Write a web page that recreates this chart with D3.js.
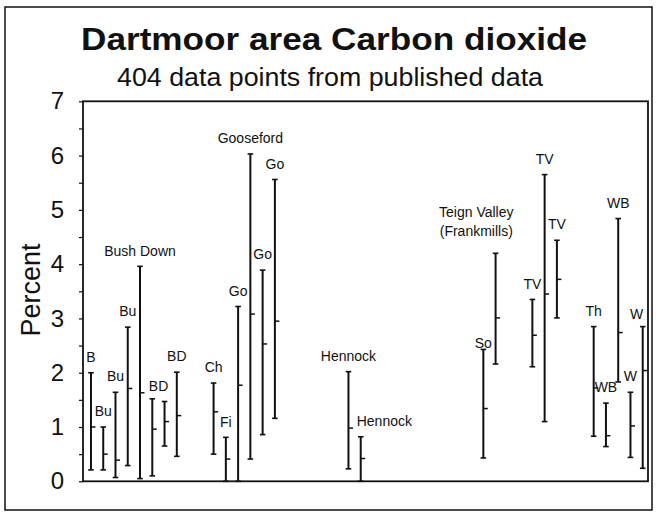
<!DOCTYPE html>
<html><head><meta charset="utf-8">
<script src="https://cdn.jsdelivr.net/npm/d3@7"></script>
<style>
html,body{margin:0;padding:0;background:#fff;}
svg{display:block;font-family:"Liberation Sans",Arial,Helvetica,sans-serif;}
</style></head>
<body><svg id="c" width="656" height="515"></svg>
<script>
// ---- data ----
const categories = ["B","Bu","Bu","Bu","Bush Down","","BD","BD","Ch","Fi","Go","Gooseford","Go","Go","Hennock","Hennock","So","Teign Valley|(Frankmills)","TV","TV","TV","Th","WB","WB","W","W"];
const slots = [0,1,2,3,4,5,6,7,10,11,12,13,14,15,21,22,32,33,36,37,38,41,42,43,44,45];
const lows  = [0.21,0.21,0.07,0.29,0.05,0.10,0.65,0.46,0.50,0,0,0.41,0.86,1.16,0.23,0,0.43,2.16,2.11,1.10,3.01,0.83,0.64,1.83,0.44,0.24];
const highs = [2.00,1.00,1.64,2.84,3.96,1.52,1.47,2.01,1.81,0.81,3.22,6.03,3.89,5.56,2.02,0.82,2.43,4.20,3.35,5.65,4.44,2.85,1.44,4.84,1.64,2.85];
const means = [1.00,0.50,0.39,1.71,1.63,0.96,1.10,1.21,1.28,0.41,1.77,3.08,2.53,2.95,0.98,0.42,1.34,3.01,2.69,3.45,3.72,1.72,0.84,2.74,1.02,2.04];
const yTicks = [0,0.5,1,1.5,2,2.5,3,3.5,4,4.5,5,5.5,6,6.5,7];
const title = "Dartmoor area Carbon dioxide";
const subtitle = "404 data points from published data";
const yLabel = "Percent";

// ---- layout ----
const svg = d3.select("#c");
const ink = "#111";
const L = 83, R = 648, T = 101.3, B = 481.3;
const x = d3.scaleLinear().domain([-0.65, 45.43]).range([L, R]);
const y = d3.scaleLinear().domain([0, 7]).range([B, T]);

// outer frame
svg.append("rect").attr("x",5).attr("y",7).attr("width",647).attr("height",503)
  .attr("fill","none").attr("stroke",ink).attr("stroke-width",1.5);

// titles
svg.append("text").attr("x",81).attr("y",50).attr("font-size",32).attr("font-weight","bold")
  .attr("fill",ink).attr("textLength",506).attr("lengthAdjust","spacingAndGlyphs").text(title);
svg.append("text").attr("x",117).attr("y",86).attr("font-size",25)
  .attr("fill",ink).attr("textLength",426).attr("lengthAdjust","spacingAndGlyphs").text(subtitle);

// plot box
svg.append("rect").attr("x",L).attr("y",T).attr("width",R-L).attr("height",B-T)
  .attr("fill","none").attr("stroke",ink).attr("stroke-width",1.8);

// y axis
const ax = svg.append("g").attr("transform",`translate(${L},0)`)
  .call(d3.axisLeft(y).tickValues(yTicks).tickSize(4).tickPadding(15)
    .tickFormat(d => Number.isInteger(d) ? d3.format("d")(d) : ""));
ax.select(".domain").remove();
ax.selectAll(".tick line").attr("stroke",ink).attr("stroke-width",1.2);
ax.selectAll(".tick text").attr("font-size",24).attr("fill",ink)
  .attr("font-family","Liberation Sans, Arial, sans-serif");

svg.append("text").attr("transform","translate(40,290) rotate(-90)")
  .attr("text-anchor","middle").attr("font-size",27).attr("fill",ink).text(yLabel);

// range bars
const data = categories.map((c,i)=>({c, s:slots[i], lo:lows[i], hi:highs[i], m:means[i], i}));
const g = svg.append("g").attr("stroke",ink);
const cap = 2.8;
data.forEach(d=>{
  const cx = x(d.s);
  g.append("line").attr("x1",cx).attr("x2",cx).attr("y1",y(d.lo)).attr("y2",y(d.hi)).attr("stroke-width",2);
  g.append("line").attr("x1",cx-cap).attr("x2",cx+cap).attr("y1",y(d.hi)).attr("y2",y(d.hi)).attr("stroke-width",1.6);
  g.append("line").attr("x1",cx-cap).attr("x2",cx+cap).attr("y1",y(d.lo)).attr("y2",y(d.lo)).attr("stroke-width",1.6);
  g.append("line").attr("x1",cx).attr("x2",cx+4.5).attr("y1",y(d.m)).attr("y2",y(d.m)).attr("stroke-width",1.5);
});

// labels
const nudge = {6:{dx:-6}, 15:{anchor:"start",dx:-4}, 16:{dy:9.1}, 17:{dx:-19.3, dy:-6.6}, 25:{dx:-6, dy:3.3}};
const lg = svg.append("g").attr("font-size",14).attr("fill",ink);
data.forEach(d=>{
  if(!d.c) return;
  const n = nudge[d.i] || {};
  const lines = d.c.split("|");
  const cx = x(d.s) + (n.dx||0);
  const cy0 = y(d.hi) - 15.7 + (n.dy||0) - (lines.length-1)*19;
  lines.forEach((t,k)=>{
    lg.append("text").attr("x",cx).attr("y",cy0 + k*19).attr("dy","0.35em")
      .attr("text-anchor",n.anchor||"middle").text(t);
  });
});
</script></body></html>
